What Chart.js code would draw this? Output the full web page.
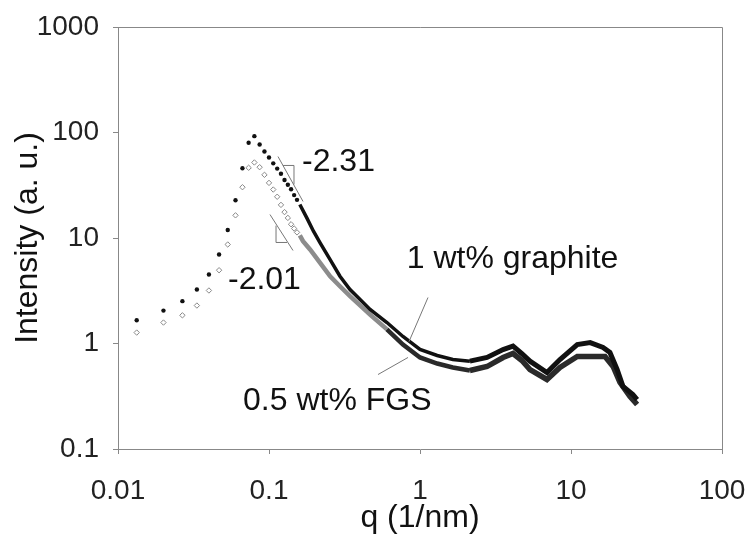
<!DOCTYPE html>
<html>
<head>
<meta charset="utf-8">
<script src="https://cdn.jsdelivr.net/npm/chart.js@4.4.1/dist/chart.umd.min.js"></script>
<style>
  body { margin: 0; background: #fff; }
  #wrap { width: 754px; height: 537px; }
</style>
</head>
<body>
<div id="wrap"><canvas id="myChart"></canvas></div>
<script>
// axis ticks
const xTicks = [0.01, 0.1, 1, 10, 100];
const xTickLabels = ['0.01', '0.1', '1', '10', '100'];
const yTicks = [0.1, 1, 10, 100, 1000];
const yTickLabels = ['0.1', '1', '10', '100', '1000'];

// low q, individual markers
const qMarks = [0.0133, 0.0200, 0.0267, 0.0333, 0.0400, 0.0467, 0.0533, 0.0600, 0.0667, 0.0733, 0.0800,
  0.0867, 0.0933, 0.1000, 0.1067, 0.1133, 0.1200, 0.1267, 0.1333, 0.1400, 0.1467, 0.1533];
const graphiteMarks = [1.66, 2.05, 2.52, 3.25, 4.51, 6.98, 11.9, 22.8, 45.9, 79.9, 92.3,
  77, 66, 58, 51, 45.5, 40.7, 35.5, 32, 29, 25.5, 23];
const fgsMarks = [1.27, 1.58, 1.85, 2.29, 3.18, 4.95, 8.68, 16.4, 30.3, 46.3, 52.0,
  46.9, 39.7, 33.3, 28.8, 24.6, 20.6, 17.6, 15.5, 13.5, 12.3, 11.3];

// higher q, points so dense they merge into a band
const graphiteBandQ = [0.16, 0.178, 0.197, 0.218, 0.254, 0.295, 0.344, 0.401, 0.467, 0.604, 0.771, 1.00, 1.30,
  1.65, 2.14, 2.78, 3.55, 4.13, 4.73, 5.35, 6.93, 8.45, 11.0, 13.4, 16.3, 18.1, 20.2, 22.1, 25.7, 27.4];
const graphiteBandI = [20.8, 15.5, 11.6, 9.00, 6.25, 4.34, 3.25, 2.61, 2.10, 1.58, 1.165, 0.877, 0.77,
  0.705, 0.68, 0.737, 0.877, 0.943, 0.80, 0.68, 0.531, 0.705, 0.978, 1.02, 0.916, 0.822, 0.567, 0.391, 0.329, 0.294];
const fgsBandQ = [0.16, 0.168, 0.187, 0.218, 0.254, 0.295, 0.344, 0.467, 0.604, 0.771, 1.00, 1.30, 1.65,
  2.14, 2.78, 3.55, 4.13, 4.73, 5.35, 6.93, 8.45, 11.0, 13.4, 16.8, 19.0, 21.1, 24.6, 27.4];
const fgsBandI = [10.6, 9.33, 7.78, 5.82, 4.34, 3.49, 2.81, 1.88, 1.36, 0.978, 0.737, 0.646, 0.592,
  0.555, 0.605, 0.737, 0.804, 0.69, 0.567, 0.456, 0.592, 0.753, 0.753, 0.753, 0.605, 0.427, 0.315, 0.264];

const pts = (qs, vs) => qs.map((q, i) => ({x: q, y: vs[i]}));

// labels and slope marks, placed in data units
const noteTexts = [
  {text: '-2.31', q: 0.1654, v: 42.7},
  {text: '-2.01', q: 0.0535, v: 3.25},
  {text: '1 wt% graphite', q: 0.817, v: 5.25},
  {text: '0.5 wt% FGS', q: 0.0673, v: 0.232}
];
const noteLines = [
  [[0.1147, 59.2], [0.168, 22.2]],
  [[0.1238, 48.7], [0.1464, 48.7], [0.1464, 32.2]],
  [[0.1015, 16.7], [0.1442, 7.61]],
  [[0.1113, 13.1], [0.1113, 9.07], [0.1316, 9.07]],
  [[1.13, 2.73], [0.845, 1.04]],
  [[0.527, 0.508], [0.833, 0.737]]
];

const FONT = "'Liberation Sans', Arial, sans-serif";

const notesPlugin = {
  id: 'notes',
  afterDatasetsDraw(chart) {
    const {ctx, scales: {x, y}, chartArea: a} = chart;
    ctx.save();
    ctx.strokeStyle = '#888';
    ctx.lineWidth = 1;
    ctx.beginPath();
    ctx.moveTo(a.left, a.top + 0.5);
    ctx.lineTo(a.right + 0.5, a.top + 0.5);
    ctx.lineTo(a.right + 0.5, a.bottom);
    ctx.stroke();

    ctx.strokeStyle = '#777';
    noteLines.forEach(line => {
      ctx.beginPath();
      line.forEach(([q, v], i) => {
        const px = x.getPixelForValue(q), py = y.getPixelForValue(v);
        if (i === 0) ctx.moveTo(px, py); else ctx.lineTo(px, py);
      });
      ctx.stroke();
    });

    ctx.fillStyle = '#111';
    ctx.font = '32px ' + FONT;
    ctx.textAlign = 'left';
    ctx.textBaseline = 'alphabetic';
    noteTexts.forEach(n => {
      ctx.fillText(n.text, x.getPixelForValue(n.q), y.getPixelForValue(n.v));
    });
    ctx.restore();
  }
};

const ctx = document.getElementById('myChart');

new Chart(ctx, {
  type: 'scatter',
  data: {
    datasets: [
      {
        label: '1 wt% graphite',
        data: pts(qMarks, graphiteMarks),
        pointStyle: 'circle',
        pointRadius: 2.2,
        pointBackgroundColor: '#111',
        pointBorderWidth: 0
      },
      {
        label: '0.5 wt% FGS',
        data: pts(qMarks, fgsMarks),
        pointStyle: 'rectRot',
        pointRadius: 2.7,
        pointBackgroundColor: '#fff',
        pointBorderColor: '#888',
        pointBorderWidth: 1
      },
      {
        label: '1 wt% graphite band',
        data: pts(graphiteBandQ, graphiteBandI),
        showLine: true,
        pointRadius: 0,
        borderColor: '#111',
        borderWidth: 4,
        segment: {
          borderWidth: c => c.p0.parsed.x > 2 ? 5 : 3.5
        }
      },
      {
        label: '0.5 wt% FGS band',
        data: pts(fgsBandQ, fgsBandI),
        showLine: true,
        pointRadius: 0,
        borderColor: '#2a2a2a',
        borderWidth: 4.5,
        segment: {
          borderColor: c => c.p0.parsed.x < 0.5 ? '#8c8c8c' : '#2a2a2a',
          borderWidth: c => c.p0.parsed.x > 2 ? 5.5 : 4.5
        }
      },
      {
        label: '0.5 wt% FGS core',
        data: pts(fgsBandQ, fgsBandI),
        showLine: true,
        pointRadius: 0,
        borderColor: '#d0d0d0',
        borderWidth: 1.2,
        segment: {
          borderColor: c => c.p0.parsed.x < 0.5 ? 'rgba(0,0,0,0)' : '#c8c8c8'
        }
      }
    ]
  },
  options: {
    responsive: true,
    maintainAspectRatio: false,
    animation: false,
    layout: {
      padding: {top: 27, right: 32, left: 0, bottom: 0}
    },
    scales: {
      x: {
        type: 'logarithmic',
        min: 0.01,
        max: 100,
        afterBuildTicks: s => { s.ticks = xTicks.map(v => ({value: v})); },
        afterFit: s => { s.height = 88; s.paddingLeft = 0; s.paddingRight = 0; },
        ticks: {
          autoSkip: false,
          maxRotation: 0,
          padding: 20,
          color: '#222',
          font: {family: FONT, size: 28},
          callback: v => xTickLabels[xTicks.indexOf(v)]
        },
        grid: {drawOnChartArea: false, tickLength: 5, color: '#888'},
        border: {color: '#888'},
        title: {
          display: true,
          text: 'q (1/nm)',
          color: '#111',
          font: {family: FONT, size: 32},
          padding: {top: 0, bottom: 0}
        }
      },
      y: {
        type: 'logarithmic',
        min: 0.1,
        max: 1000,
        afterBuildTicks: s => { s.ticks = yTicks.map(v => ({value: v})); },
        afterFit: s => { s.width = 118; s.paddingTop = 0; s.paddingBottom = 0; },
        ticks: {
          autoSkip: false,
          padding: 14,
          color: '#222',
          font: {family: FONT, size: 28},
          callback: v => yTickLabels[yTicks.indexOf(v)]
        },
        grid: {drawOnChartArea: false, tickLength: 5, color: '#888'},
        border: {color: '#888'},
        title: {
          display: true,
          text: 'Intensity (a. u.)',
          color: '#111',
          font: {family: FONT, size: 32},
          padding: {top: 9, bottom: 0}
        }
      }
    },
    plugins: {
      legend: {display: false},
      tooltip: {enabled: false}
    }
  },
  plugins: [notesPlugin]
});
</script>
</body>
</html>
